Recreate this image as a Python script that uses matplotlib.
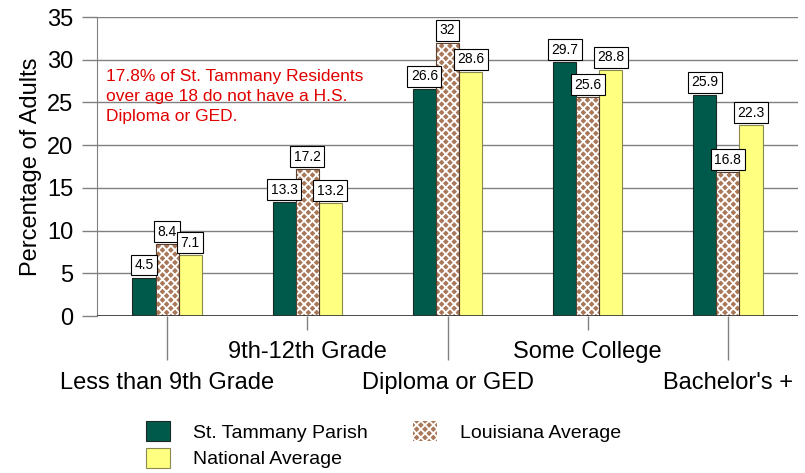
import matplotlib
matplotlib.use("Agg")
import matplotlib.pyplot as plt
from matplotlib.patches import Patch
import numpy as np

plt.rcParams['font.family'] = ['Liberation Sans', 'DejaVu Sans']
plt.rcParams['hatch.linewidth'] = 1.3

categories = ["Less than 9th Grade", "9th-12th Grade", "Diploma or GED",
              "Some College", "Bachelor's +"]
series_names = ["St. Tammany Parish", "Louisiana Average", "National Average"]
st_tammany = [4.5, 13.3, 26.6, 29.7, 25.9]
louisiana = [8.4, 17.2, 32, 25.6, 16.8]
national = [7.1, 13.2, 28.6, 28.8, 22.3]
yticks = [0, 5, 10, 15, 20, 25, 30, 35]
note = "17.8% of St. Tammany Residents\nover age 18 do not have a H.S.\nDiploma or GED."

W, H = 805, 473
fig = plt.figure(figsize=(W / 100, H / 100), dpi=100)
ax = fig.add_axes([97 / W, 1 - 316 / H, (798 - 97) / W, (316 - 17) / H])

x = np.arange(len(categories))
bw = 0.165
green = '#005A4B'
yellow = '#FFFF80'
brown = '#A87858'

b1 = ax.bar(x - bw, st_tammany, bw, color=green, edgecolor='#1a2a22', linewidth=0.8, zorder=3)
b2 = ax.bar(x, louisiana, bw, color=brown, edgecolor='white', hatch='xxxx', linewidth=0, zorder=3)
ax.bar(x, louisiana, bw, fill=False, edgecolor='#5a4030', linewidth=0.8, zorder=3.1)
b3 = ax.bar(x + bw, national, bw, color=yellow, edgecolor='#8a8a50', linewidth=0.8, zorder=3)

for bars, vals in ((b1, st_tammany), (b2, louisiana), (b3, national)):
    for rect, v in zip(bars, vals):
        ax.annotate(f"{v:g}", (rect.get_x() + rect.get_width() / 2, v),
                    xytext=(0, 4), textcoords='offset points',
                    ha='center', va='bottom', fontsize=10, zorder=5,
                    bbox=dict(boxstyle='square,pad=0.25', fc='white', ec='black', lw=0.8))

ax.set_xlim(-0.5, 4.5)
ax.set_ylim(0, 35)
ax.set_yticks(yticks)
ax.yaxis.grid(True, color='#808080', linewidth=1, zorder=0)
ax.set_axisbelow(True)
ax.axhline(0, color='#303030', linewidth=1.2, zorder=4)
for s in ('top', 'right', 'bottom'):
    ax.spines[s].set_visible(False)
ax.spines['left'].set_color('#808080')
ax.tick_params(axis='y', length=11, color='#808080', width=1, labelsize=17, pad=6)

ax.set_xticks(x[::2])
ax.set_xticklabels(categories[::2])
ax.set_xticks(x[1::2], minor=True)
ax.set_xticklabels(categories[1::2], minor=True)
ax.tick_params(axis='x', which='major', length=32, color='#808080', width=1, labelsize=17, pad=8)
ax.tick_params(axis='x', which='minor', length=10, color='#808080', width=1, labelsize=17, pad=8)

ax.set_ylabel("Percentage of Adults", fontsize=17, labelpad=4)

ax.text(106 / W, 1 - 69 / H, note, transform=fig.transFigure, color='#E00000',
        fontsize=12.5, va='top', ha='left', linespacing=1.42)

handles = [Patch(facecolor=green, edgecolor='#1a2a22', lw=0.8),
           Patch(facecolor=yellow, edgecolor='#8a8a50', lw=0.8),
           Patch(facecolor=brown, edgecolor='white', hatch='xxxx', lw=0)]
labels = [series_names[0], series_names[2], series_names[1]]
fig.legend(handles, labels, loc='upper left', bbox_to_anchor=(146 / W, 1 - 421 / H),
           ncol=2, frameon=False, fontsize=14, handlelength=1.24, handleheight=1.24,
           labelspacing=0.3, handletextpad=1.2, columnspacing=2.3, borderpad=0,
           borderaxespad=0)

fig.savefig("out.png", dpi=100)
